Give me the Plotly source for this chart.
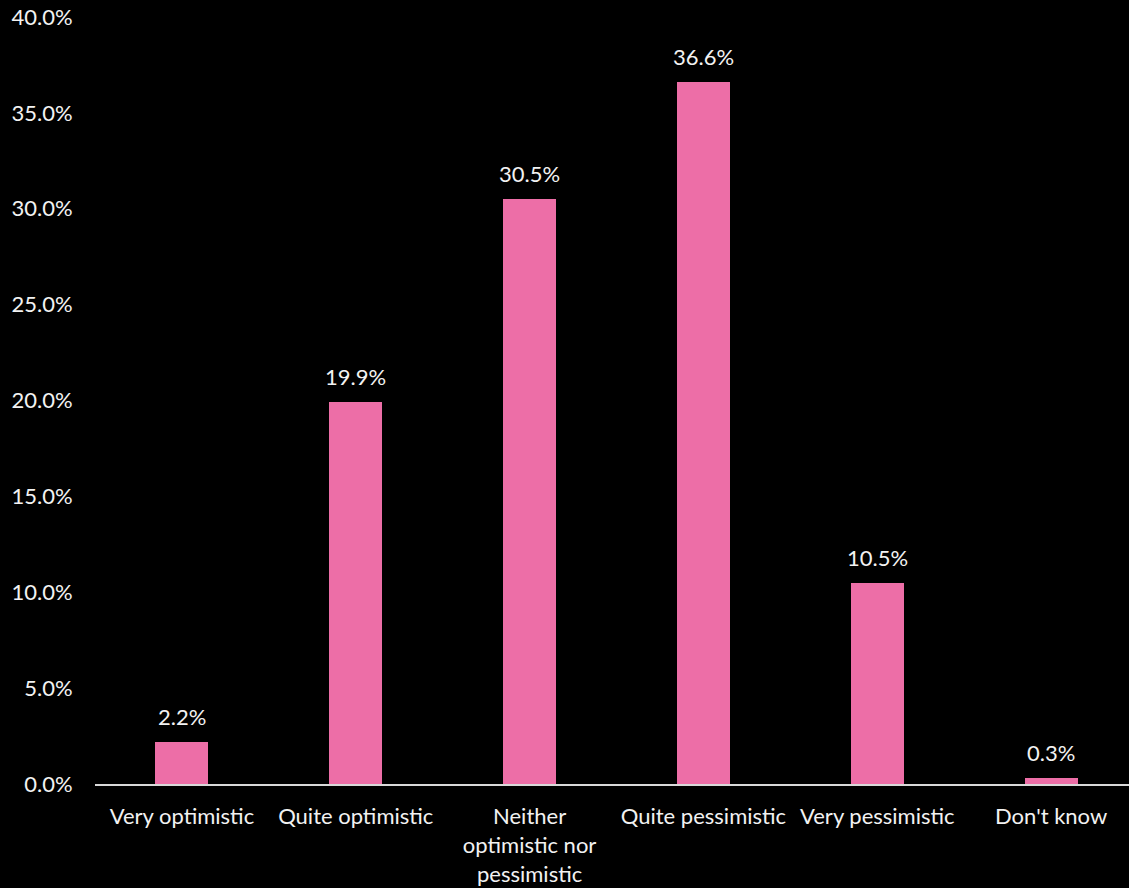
import plotly.graph_objects as go

categories = ["Very optimistic", "Quite optimistic", "Neither<br>optimistic nor<br>pessimistic",
              "Quite pessimistic", "Very pessimistic", "Don't know"]
shares = [2.2, 19.9, 30.5, 36.6, 10.5, 0.3]
y_ticks = [0, 5, 10, 15, 20, 25, 30, 35, 40]
y_tick_labels = [f"{v:.1f}%" for v in y_ticks]

FONT = "Lato"
SIZE = 22
PINK = "#ED6EA7"
TEXT = "#F2F2F2"

x_pos = list(range(len(categories)))

fig = go.Figure(
    go.Bar(
        x=x_pos,
        y=shares,
        width=0.305,
        marker=dict(color=PINK, line=dict(width=0)),
        hoverinfo="skip",
    )
)

# value labels sitting a little above each bar
for xi, v in zip(x_pos, shares):
    fig.add_annotation(
        x=xi, y=v, text=f"{v:.1f}%",
        showarrow=False, yanchor="bottom", yshift=10,
        font=dict(color=TEXT, size=SIZE, family=FONT),
    )

fig.update_layout(
    width=1129,
    height=888,
    paper_bgcolor="black",
    plot_bgcolor="black",
    margin=dict(l=95, r=0, t=17, b=104),
    font=dict(family=FONT, color=TEXT, size=SIZE),
    showlegend=False,
    bargap=0,
)

fig.update_xaxes(
    tickmode="array",
    tickvals=x_pos,
    ticktext=categories,
    range=[-0.5, 5.448],
    showgrid=False,
    zeroline=False,
    showline=True,
    linecolor="#D9D9D9",
    linewidth=2,
    ticks="outside",
    ticklen=12,
    tickcolor="rgba(0,0,0,0)",
    tickfont=dict(color=TEXT, size=SIZE, family=FONT),
)

fig.update_yaxes(
    range=[0, 40],
    tickmode="array",
    tickvals=y_ticks,
    ticktext=y_tick_labels,
    showgrid=False,
    zeroline=False,
    showline=False,
    ticks="outside",
    ticklen=17,
    tickcolor="rgba(0,0,0,0)",
    tickfont=dict(color=TEXT, size=SIZE, family=FONT),
)

fig.write_html("out.html")
